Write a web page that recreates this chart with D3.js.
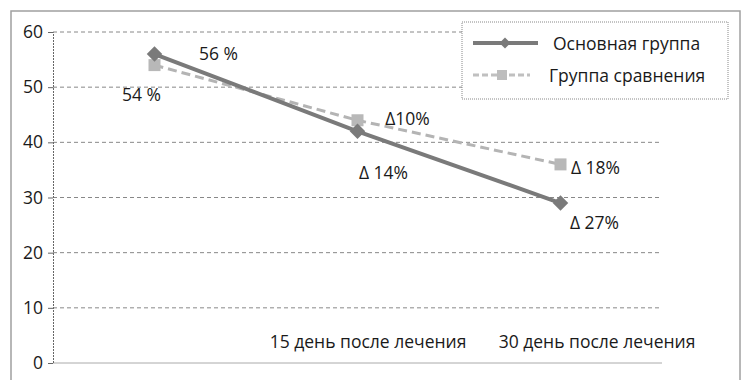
<!DOCTYPE html>
<html>
<head>
<meta charset="utf-8">
<script src="https://cdn.jsdelivr.net/npm/d3@7"></script>
<style>
  body { margin: 0; background: #fff; }
  text { font-family: "Open Sans", sans-serif; fill: #1a1a1a; }
</style>
</head>
<body>
<div id="chart"></div>
<script>
const categories = ["", "15 день после лечения", "30 день после лечения"];
const mainValues = [56, 42, 29];
const compValues = [54, 44, 36];
const mainLabels = ["56 %", "Δ 14%", "Δ 27%"];
const compLabels = ["54 %", "Δ10%", "Δ 18%"];
const yTicks = [0, 10, 20, 30, 40, 50, 60];
const seriesNames = ["Основная группа", "Группа сравнения"];

const W = 742, H = 380;
const margin = { top: 32, right: 80, bottom: 17, left: 53 };
const width = W - margin.left - margin.right;
const height = H - margin.top - margin.bottom;
const fontSize = "17.5px";

const svgRoot = d3.select("#chart").append("svg")
    .attr("width", W)
    .attr("height", H);

// outer frame
svgRoot.append("rect")
    .attr("x", 11).attr("y", 11)
    .attr("width", 729).attr("height", 380)
    .attr("fill", "none")
    .attr("stroke", "#a0a0a0")
    .attr("stroke-width", 1.5);

const svg = svgRoot.append("g")
    .attr("transform", `translate(${margin.left},${margin.top})`);

const x = d3.scalePoint()
    .domain(categories)
    .range([0, width])
    .padding(0.5);

const y = d3.scaleLinear()
    .domain([0, 60])
    .range([height, 0]);

// gridlines
svg.append("g")
    .selectAll("line")
    .data(yTicks)
    .enter()
    .append("line")
    .attr("x1", 0)
    .attr("x2", width)
    .attr("y1", d => y(d))
    .attr("y2", d => y(d))
    .attr("stroke", d => d === 0 ? "#aaa" : "#888")
    .attr("stroke-width", 1)
    .attr("stroke-dasharray", d => d === 0 ? null : "4,3");

// y axis
const yAxis = svg.append("g")
    .call(d3.axisLeft(y).tickValues(yTicks).tickSize(5).tickPadding(5));
yAxis.select(".domain").attr("stroke", "#666").attr("stroke-dasharray", "2,1");
yAxis.selectAll(".tick line").attr("stroke", "#666");
yAxis.selectAll("text")
    .style("font-size", fontSize)
    .style("font-family", "Open Sans, sans-serif")
    .attr("fill", "#1a1a1a");

// category labels, sit just above the 0 line
const labelShift = [0, 10, 36];
const xAxis = svg.append("g")
    .attr("transform", `translate(0,${height})`)
    .call(d3.axisBottom(x).tickSize(0));
xAxis.select(".domain").remove();
xAxis.selectAll("text")
    .attr("y", -27)
    .attr("dx", (d, i) => labelShift[i])
    .style("font-size", fontSize)
    .style("font-family", "Open Sans, sans-serif")
    .attr("fill", "#1a1a1a");

const line = d3.line()
    .x((d, i) => x(categories[i]))
    .y(d => y(d));

// comparison series
svg.append("path")
    .datum(compValues)
    .attr("fill", "none")
    .attr("stroke", "#b4b4b4")
    .attr("stroke-width", 3)
    .attr("stroke-dasharray", "9,5")
    .attr("d", line);

svg.selectAll(".comp-pt")
    .data(compValues)
    .enter()
    .append("rect")
    .attr("class", "comp-pt")
    .attr("x", (d, i) => x(categories[i]) - 6)
    .attr("y", d => y(d) - 6)
    .attr("width", 12)
    .attr("height", 12)
    .attr("fill", "#b8b8b8");

// main series
svg.append("path")
    .datum(mainValues)
    .attr("fill", "none")
    .attr("stroke", "#7a7a7a")
    .attr("stroke-width", 4)
    .attr("d", line);

const diamond = d3.symbol().type(d3.symbolSquare).size(120);
svg.selectAll(".main-pt")
    .data(mainValues)
    .enter()
    .append("path")
    .attr("class", "main-pt")
    .attr("transform", (d, i) => `translate(${x(categories[i])},${y(d)}) rotate(45)`)
    .attr("d", diamond)
    .attr("fill", "#7a7a7a");

// data labels
const mainOffsets = [[64, -1], [26, 41], [34, 19]];
const compOffsets = [[-13, 29], [50, -2], [35, 3]];

svg.selectAll(".main-lbl")
    .data(mainValues)
    .enter()
    .append("text")
    .attr("x", (d, i) => x(categories[i]) + mainOffsets[i][0])
    .attr("y", (d, i) => y(d) + mainOffsets[i][1])
    .attr("text-anchor", "middle")
    .attr("dominant-baseline", "central")
    .style("font-size", fontSize)
    .text((d, i) => mainLabels[i]);

svg.selectAll(".comp-lbl")
    .data(compValues)
    .enter()
    .append("text")
    .attr("x", (d, i) => x(categories[i]) + compOffsets[i][0])
    .attr("y", (d, i) => y(d) + compOffsets[i][1])
    .attr("text-anchor", "middle")
    .attr("dominant-baseline", "central")
    .style("font-size", fontSize)
    .text((d, i) => compLabels[i]);

// legend
const legend = svgRoot.append("g").attr("transform", "translate(462,22)");
legend.append("rect")
    .attr("width", 266)
    .attr("height", 77)
    .attr("fill", "#fff")
    .attr("stroke", "#888")
    .attr("stroke-dasharray", "1,1");

const l1 = legend.append("g").attr("transform", "translate(0,21)");
l1.append("line").attr("x1", 11).attr("x2", 76)
    .attr("stroke", "#7a7a7a").attr("stroke-width", 4);
l1.append("path").attr("d", d3.symbol().type(d3.symbolSquare).size(60))
    .attr("transform", "translate(43,0) rotate(45)").attr("fill", "#7a7a7a");
l1.append("text").attr("x", 91).attr("dominant-baseline", "central")
    .style("font-size", fontSize).text(seriesNames[0]);

const l2 = legend.append("g").attr("transform", "translate(0,53)");
l2.append("line").attr("x1", 11).attr("x2", 68)
    .attr("stroke", "#c0c0c0").attr("stroke-width", 3).attr("stroke-dasharray", "6,3");
l2.append("rect").attr("x", 35).attr("y", -5).attr("width", 10).attr("height", 10)
    .attr("fill", "#bdbdbd");
l2.append("text").attr("x", 87).attr("dominant-baseline", "central")
    .style("font-size", fontSize).text(seriesNames[1]);
</script>
</body>
</html>
